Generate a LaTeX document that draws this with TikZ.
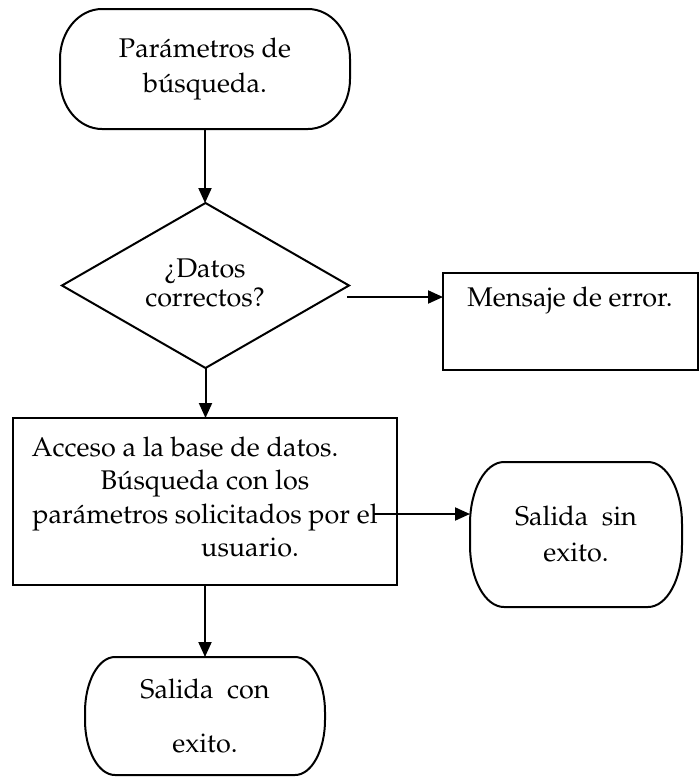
\documentclass[tikz,border=0pt]{standalone}
\usepackage[T1]{fontenc}
\renewcommand{\rmdefault}{ppl}
\usetikzlibrary{shapes.geometric,arrows.meta}
% outline of a box with elliptical corners: L T R B rx ry
\newcommand{\ellbox}[6]{%
  \pgfmathsetmacro\eLa{#1+#5}\pgfmathsetmacro\eRa{#3-#5}%
  \pgfmathsetmacro\eTa{#2+#6}\pgfmathsetmacro\eBa{#4-#6}%
  \pgfmathsetmacro\ekx{0.5523*#5}\pgfmathsetmacro\eky{0.5523*#6}%
  \draw (\eLa,#2) -- (\eRa,#2)
    .. controls (\eRa+\ekx,#2) and (#3,\eTa-\eky) .. (#3,\eTa) -- (#3,\eBa)
    .. controls (#3,\eBa+\eky) and (\eRa+\ekx,#4) .. (\eRa,#4) -- (\eLa,#4)
    .. controls (\eLa-\ekx,#4) and (#1,\eBa+\eky) .. (#1,\eBa) -- (#1,\eTa)
    .. controls (#1,\eTa-\eky) and (\eLa-\ekx,#2) .. (\eLa,#2) -- cycle;}
\begin{document}
\begin{tikzpicture}[x=1pt,y=-1pt,line width=2pt,
  every node/.style={inner sep=0pt,outer sep=0pt},
  txt/.style={font=\fontsize{27}{#1}\selectfont,align=center},
  txt/.default=34,
  arr/.style={-{Triangle[length=15pt,width=13pt]}},
  box/.style={draw},
  dia/.style={draw,diamond}
]
\useasboundingbox (0,0) rectangle (699,777);
% top terminal
\node[minimum width=290pt,minimum height=120pt,txt=35] (start) at (205,69)
  {Par\'ametros de\\b\'usqueda.};
\ellbox{60}{9}{350}{129}{42}{50}
% decision
\node[dia,minimum width=287pt,minimum height=165pt] (dec) at (205.5,285.5) {};
\node[txt=29] (dectxt) at (205,283) {?`Datos\\correctos?};
% error box
\node[box,minimum width=255pt,minimum height=97pt] (err) at (570.5,321.5) {};
\node[txt] (errtxt) at (570,301) {Mensaje de error.};
% access box
\node[box,minimum width=384pt,minimum height=167pt] (acc) at (205,501.5) {};
\node[txt=33.5] (acctxt) at (205,497)
  {Acceso a la base de datos.\hspace*{40pt}\\
   B\'usqueda con los\\
   par\'ametros solicitados por el\\
   \hspace*{90pt}usuario.};
% failure exit
\node[minimum width=212pt,minimum height=145pt,txt=36] (fail) at (576,534.5)
  {Salida\ \ sin\\exito.};
\ellbox{470}{462}{682}{607}{34}{62}
% success exit
\node[minimum width=240pt,minimum height=118pt,txt=54] (end) at (205,716)
  {Salida\ \ con\\exito.};
\ellbox{85}{657}{325}{775}{30}{55}
% connectors
\coordinate (errfrom) at (347,297);
\coordinate (failfrom) at (373,514);
\draw[arr] (start.south) -- (start.south |- dec.north);
\draw[arr] (errfrom) -- (errfrom -| err.west);
\draw[arr] (dec.south) -- (dec.south |- acc.north);
\draw[arr] (failfrom) -- (failfrom -| fail.west);
\draw[arr] (acc.south) -- (acc.south |- end.north);
\end{tikzpicture}
\end{document}
